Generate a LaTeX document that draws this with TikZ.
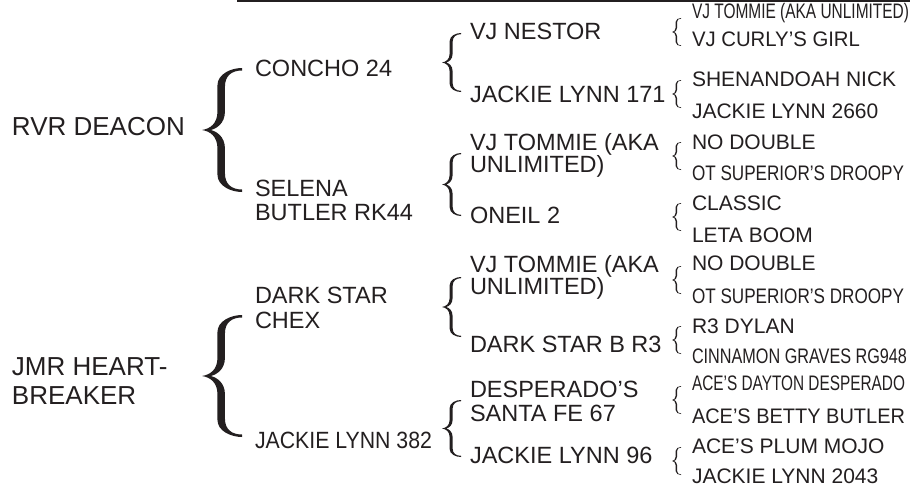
\documentclass[tikz,border=0pt]{standalone}
\usepackage{fontspec}
\setmainfont{Liberation Sans}
\usepackage{graphicx}
\definecolor{ink}{RGB}{35,31,32}
\newcommand\sqz[2]{\resizebox{#1pt}{\height}{#2}}
\newcommand\twoline[3]{\vtop{\baselineskip=#1pt\lineskiplimit=-1000pt\lineskip=0pt\hbox{#2}\hbox{#3}}}
\tikzset{
  lv1/.style={anchor=base west, inner sep=0pt, outer sep=0pt, text=ink, font=\fontsize{26}{29}\selectfont},
  lv2/.style={lv1, font=\fontsize{23.5}{24}\selectfont},
  lv3/.style={lv1, font=\fontsize{23.5}{24}\selectfont},
  lv4/.style={lv1, font=\fontsize{21}{24}\selectfont},
  rule/.style={draw=ink, line width=2.4pt},
  pics/cbrace/.style args={#1/#2/#3/#4}{code={
    \pgfmathsetmacro\bw{#1}\pgfmathsetmacro\bh{#2/2}%
    \pgfmathsetmacro\bt{#3}\pgfmathsetmacro\be{#4}%
    \pgfmathsetmacro\xa{0.48*\bw-\bt/2}\pgfmathsetmacro\xb{0.48*\bw+\bt/2}%
    \fill[ink] (\bw,-\bh) .. controls ({0.72*\bw},-\bh) and (\xa,{-0.9*\bh}) .. (\xa,{-0.72*\bh})
      -- (\xa,{-0.3*\bh}) .. controls (\xa,{-0.1*\bh}) and ({0.2*\bw},{-0.02*\bh}) .. (0,0)
      .. controls ({0.2*\bw},{0.02*\bh}) and (\xa,{0.1*\bh}) .. (\xa,{0.3*\bh})
      -- (\xa,{0.72*\bh}) .. controls (\xa,{0.9*\bh}) and ({0.72*\bw},\bh) .. (\bw,\bh)
      -- (\bw,{\bh-\be}) .. controls ({0.75*\bw},{\bh-\be}) and (\xb,{0.88*\bh}) .. (\xb,{0.7*\bh})
      -- (\xb,{0.3*\bh}) .. controls (\xb,{0.1*\bh}) and ({0.35*\bw},{0.02*\bh}) .. ({0.22*\bw},0)
      .. controls ({0.35*\bw},{-0.02*\bh}) and (\xb,{-0.1*\bh}) .. (\xb,{-0.3*\bh})
      -- (\xb,{-0.7*\bh}) .. controls (\xb,{-0.88*\bh}) and ({0.75*\bw},{-\bh+\be}) .. (\bw,{-\bh+\be})
      -- cycle;
  }}
}
\begin{document}
\begin{tikzpicture}[x=1pt,y=-1pt]
\useasboundingbox (0,0) rectangle (920,487);
\fill[white] (0,0) rectangle (920,487);
% top rule
\coordinate (ruleL) at (237,1.2);
\coordinate (ruleR) at (910,1.2);
\draw[rule] (ruleL) -- (ruleR);

% level 1
\node[lv1] (rvr) at (12,135) {RVR DEACON};
\node[lv1] (jmr) at (12,375.5) {\twoline{29}{JMR HEART-}{BREAKER}};

% level 2
\node[lv2] (concho) at (255,76) {CONCHO 24};
\node[lv2] (selena) at (255,196) {\twoline{24}{SELENA}{BUTLER RK44}};
\node[lv2] (darkstar) at (255,303) {\twoline{25}{DARK STAR}{CHEX}};
\node[lv2] (jl382) at (255,448) {\sqz{177}{JACKIE LYNN 382}};

% level 3
\node[lv3] (nestor) at (470,40) {VJ NESTOR};
\node[lv3] (jl171) at (470,102) {JACKIE LYNN 171};
\node[lv3] (tommieA) at (470,150) {\twoline{22}{VJ TOMMIE (AKA}{UNLIMITED)}};
\node[lv3] (oneil) at (470,223) {ONEIL 2};
\node[lv3] (tommieB) at (470,272) {\twoline{22.5}{VJ TOMMIE (AKA}{UNLIMITED)}};
\node[lv3] (dsbr3) at (470,352) {DARK STAR B R3};
\node[lv3] (desp) at (470,397) {\twoline{24.5}{DESPERADO’S}{SANTA FE 67}};
\node[lv3] (jl96) at (470,463) {JACKIE LYNN 96};

% level 4
\node[lv4] (g01) at (692,19) {\sqz{217}{VJ TOMMIE (AKA UNLIMITED)}};
\node[lv4] (g02) at (692,47) {\sqz{168}{VJ CURLY’S GIRL}};
\node[lv4] (g03) at (692,86) {SHENANDOAH NICK};
\node[lv4] (g04) at (692,118) {JACKIE LYNN 2660};
\node[lv4] (g05) at (692,149) {NO DOUBLE};
\node[lv4] (g06) at (692,180) {\sqz{212}{OT SUPERIOR’S DROOPY}};
\node[lv4] (g07) at (692,210) {CLASSIC};
\node[lv4] (g08) at (692,242) {LETA BOOM};
\node[lv4] (g09) at (692,270) {NO DOUBLE};
\node[lv4] (g10) at (692,303) {\sqz{212}{OT SUPERIOR’S DROOPY}};
\node[lv4] (g11) at (692,333) {R3 DYLAN};
\node[lv4] (g12) at (692,363) {\sqz{215}{CINNAMON GRAVES RG948}};
\node[lv4] (g13) at (692,390) {\sqz{213}{ACE’S DAYTON DESPERADO}};
\node[lv4] (g14) at (692,423) {\sqz{213}{ACE’S BETTY BUTLER}};
\node[lv4] (g15) at (692,453) {ACE’S PLUM MOJO};
\node[lv4] (g16) at (692,483) {JACKIE LYNN 2043};

% braces level 1 -> 2
\pic at (202,130) {cbrace={40/124/7.5/2.5}};
\pic at (202,376) {cbrace={40/122/7.5/2.5}};
% braces level 2 -> 3
\pic at (442,62.5) {cbrace={19/59/3/1.2}};
\pic at (442,184.5) {cbrace={19/63/3/1.2}};
\pic at (442,307) {cbrace={19/60/3/1.2}};
\pic at (442,428.5) {cbrace={19/57/3/1.2}};
% braces level 3 -> 4
\pic at (672,32) {cbrace={9/28/1.4/0.6}};
\pic at (672,94) {cbrace={9/28/1.4/0.6}};
\pic at (672,156) {cbrace={9/28/1.4/0.6}};
\pic at (672,217) {cbrace={9/28/1.4/0.6}};
\pic at (672,280) {cbrace={9/28/1.4/0.6}};
\pic at (672,340) {cbrace={9/28/1.4/0.6}};
\pic at (672,400) {cbrace={9/28/1.4/0.6}};
\pic at (672,461) {cbrace={9/28/1.4/0.6}};
\end{tikzpicture}
\end{document}
